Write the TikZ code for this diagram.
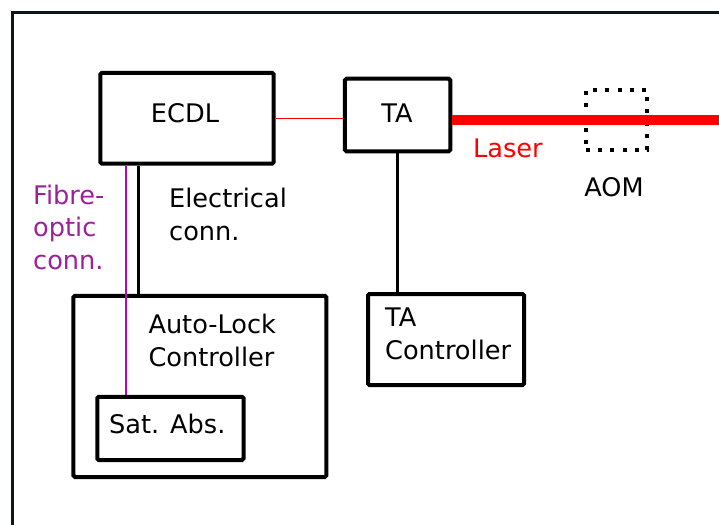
\documentclass[tikz,border=0pt]{standalone}
\usepackage{fontspec}
\setmainfont{DejaVu Sans}
\usetikzlibrary{calc}
\definecolor{framecol}{HTML}{0E131C}
\definecolor{fibretext}{HTML}{9C1F9C}
\definecolor{fibreline}{HTML}{B00AB0}
\definecolor{laserred}{HTML}{FF0000}
\begin{document}
\begin{tikzpicture}[x=1pt,y=-1pt,
  box/.style={draw=black, line width=4pt, rounded corners=1.5pt, inner sep=0pt, fill=white},
  lbl/.style={inner sep=0pt, anchor=base west, align=left, font=\fontsize{25.6}{32.5}\selectfont},
  clbl/.style={inner sep=0pt, font=\fontsize{25.6}{32.5}\selectfont}]
\useasboundingbox (0,0) rectangle (719,524);
\clip (0,0) rectangle (719,524);
% frame
\draw[framecol, line width=3pt] (12,540) -- (12,13) -- (740,13);
% boxes
\node[box, minimum width=173.4pt, minimum height=90.7pt] (ecdl) at (187,118.3) {};
\node[box, minimum width=105.3pt, minimum height=72.6pt] (ta) at (397.6,115) {};
\node[box, minimum width=252.9pt, minimum height=181.2pt] (al) at (199.9,386.4) {};
\node[box, minimum width=146.3pt, minimum height=63.2pt] (sat) at (170.4,428.4) {};
\node[box, minimum width=156pt, minimum height=91pt] (tactl) at (446,339.5) {};
\node[draw=black, line width=4pt, dash pattern=on 4pt off 8.2pt, inner sep=0pt,
      minimum width=61pt, minimum height=60pt] (aom) at (616.5,120) {};
% connectors
\draw[laserred, line width=1.5pt] (ecdl.east) -- (ecdl.east -| ta.west);
\coordinate (laserend) at (740,120);
\draw[laserred, line width=10pt] (ta.east |- laserend) -- (laserend);
\draw[black, line width=3.3pt] (ta.south) -- (ta.south |- tactl.north);
\draw[black, line width=3.3pt] ($(ecdl.south west)+(40.3,0)$) coordinate (el) -- (el |- al.north);
\draw[fibreline, line width=2.4pt] ($(ecdl.south west)+(27.7,0)$) coordinate (fo) -- (fo |- sat.north);
% texts
\node[clbl] (tecdl) at (185,113) {ECDL};
\node[clbl] (tta) at (397,113) {TA};
\node[lbl, text=laserred] (tlaser) at (473,157.5) {Laser};
\node[clbl, anchor=base] (taom) at (614,196) {AOM};
\node[lbl, text=fibretext] (tfibre) at (33,269) {Fibre-\\optic\\conn.};
\node[lbl] (telec) at (169,240) {Electrical\\conn.};
\node[lbl] (tal) at (148.3,366.2) {Auto-Lock\\Controller};
\node[lbl] (ttactl) at (385,359) {TA\\Controller};
\node[lbl] (tsat) at (109,433.4) {Sat. Abs.};
\end{tikzpicture}
\end{document}
